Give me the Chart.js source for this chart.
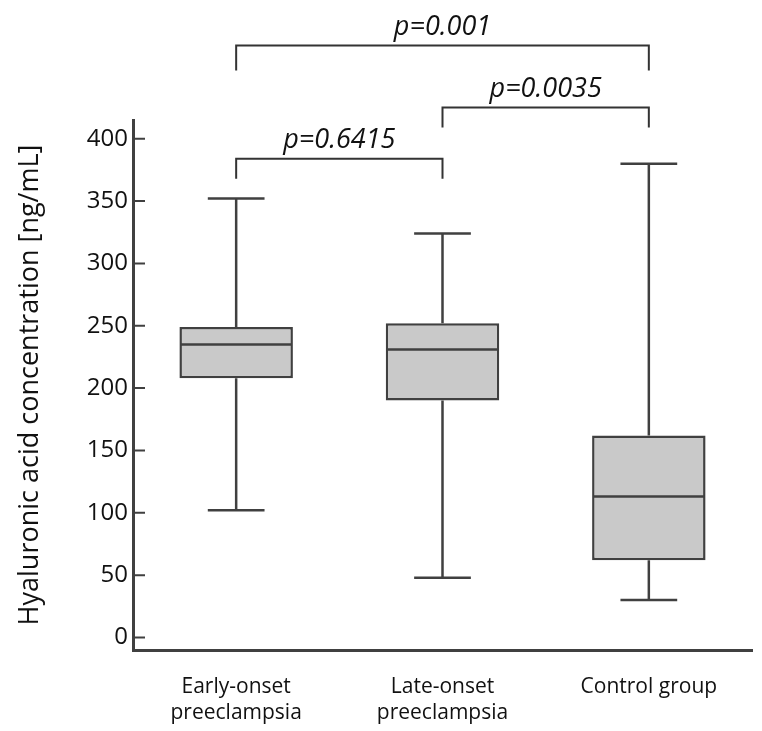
<!DOCTYPE html>
<html>
<head>
<meta charset="utf-8">
<script src="https://cdn.jsdelivr.net/npm/chart.js@4.4.1/dist/chart.umd.min.js"></script>
<style>
  html, body { margin: 0; padding: 0; background: #fff; }
  #contenedor { width: 762px; height: 731px; }
</style>
</head>
<body>
<div id="contenedor"><canvas id="boxChart"></canvas></div>
<script>
var grupos   = [['Early-onset', 'preeclampsia'], ['Late-onset', 'preeclampsia'], 'Control group'];
var minimos  = [102, 48, 30];
var q1       = [208, 190, 62];
var medianas = [235, 231, 113];
var q3       = [249, 252, 162];
var maximos  = [352, 324, 380];
var yTicks   = [0, 50, 100, 150, 200, 250, 300, 350, 400];

// comparaciones entre grupos (indices) y su valor p
var comparaciones = [[0, 1], [1, 2], [0, 2]];
var pValores      = ['p=0.6415', 'p=0.0035', 'p=0.001'];

var colorLinea = '#404040';
var colorTexto = '#111111';

Chart.defaults.font.family = "'Open Sans', sans-serif";

var cajas = [];
for (var i = 0; i < grupos.length; i++) {
    cajas.push([q1[i], q3[i]]);
}

// mediana, bigotes y extremos de cada caja
var bigotesPlugin = {
    id: 'bigotes',
    afterDatasetsDraw: function(chart) {
        var ctx = chart.ctx;
        var y = chart.scales.y;
        var barras = chart.getDatasetMeta(0).data;
        ctx.save();
        ctx.strokeStyle = colorLinea;
        ctx.lineWidth = 2.5;
        for (var i = 0; i < barras.length; i++) {
            var b = barras[i];
            var x = b.x, w = b.width;
            var yMed = y.getPixelForValue(medianas[i]);
            var yMax = y.getPixelForValue(maximos[i]);
            var yMin = y.getPixelForValue(minimos[i]);
            ctx.beginPath();
            ctx.moveTo(x - w / 2 + 1, yMed);
            ctx.lineTo(x + w / 2 - 1, yMed);
            ctx.moveTo(x, y.getPixelForValue(q3[i]));
            ctx.lineTo(x, yMax);
            ctx.moveTo(x - w / 4, yMax);
            ctx.lineTo(x + w / 4, yMax);
            ctx.moveTo(x, y.getPixelForValue(q1[i]));
            ctx.lineTo(x, yMin);
            ctx.moveTo(x - w / 4, yMin);
            ctx.lineTo(x + w / 4, yMin);
            ctx.stroke();
        }
        ctx.restore();
    }
};

// marcas del eje y hacia dentro y corchetes con valores p
var anotacionesPlugin = {
    id: 'anotaciones',
    afterDraw: function(chart) {
        var ctx = chart.ctx;
        var x = chart.scales.x;
        var y = chart.scales.y;
        var area = chart.chartArea;
        ctx.save();
        ctx.strokeStyle = colorLinea;
        ctx.lineWidth = 2;
        ctx.beginPath();
        for (var t = 0; t < yTicks.length; t++) {
            var ty = y.getPixelForValue(yTicks[t]);
            ctx.moveTo(area.left, ty);
            ctx.lineTo(area.left + 12, ty);
        }
        ctx.stroke();

        var niveles = [384, 425, 474.7];
        var patas = [20, 20, 25];
        ctx.lineWidth = 2;
        ctx.strokeStyle = '#333333';
        ctx.fillStyle = colorTexto;
        ctx.font = "italic 27px 'Open Sans', sans-serif";
        ctx.textAlign = 'center';
        ctx.textBaseline = 'alphabetic';
        for (var c = 0; c < comparaciones.length; c++) {
            var x1 = x.getPixelForValue(comparaciones[c][0]);
            var x2 = x.getPixelForValue(comparaciones[c][1]);
            var yl = y.getPixelForValue(niveles[c]);
            ctx.beginPath();
            ctx.moveTo(x1, yl + patas[c]);
            ctx.lineTo(x1, yl);
            ctx.lineTo(x2, yl);
            ctx.lineTo(x2, yl + patas[c]);
            ctx.stroke();
            ctx.fillText(pValores[c], (x1 + x2) / 2, yl - 11);
        }
        ctx.restore();
    }
};

new Chart(document.getElementById('boxChart').getContext('2d'), {
    type: 'bar',
    data: {
        labels: grupos,
        datasets: [{
            data: cajas,
            backgroundColor: '#c9c9c9',
            borderColor: colorLinea,
            borderWidth: 2.5,
            borderSkipped: false,
            barPercentage: 0.55,
            categoryPercentage: 1
        }]
    },
    options: {
        responsive: true,
        maintainAspectRatio: false,
        animation: false,
        layout: { padding: { top: 120, right: 10, left: 0, bottom: 0 } },
        plugins: {
            legend: { display: false },
            tooltip: { enabled: false }
        },
        scales: {
            x: {
                grid: { display: false, drawTicks: false },
                border: { display: true, color: colorLinea, width: 3 },
                ticks: {
                    color: colorTexto,
                    padding: 24,
                    maxRotation: 0,
                    font: { size: 21, lineHeight: 1.25 }
                },
                afterFit: function(scale) { scale.height = 81; }
            },
            y: {
                min: -10,
                max: 415,
                afterBuildTicks: function(scale) {
                    scale.ticks = yTicks.map(function(v) { return { value: v }; });
                },
                grid: { display: false, drawTicks: false },
                border: { display: true, color: colorLinea, width: 3 },
                ticks: {
                    color: colorTexto,
                    padding: 5,
                    font: { size: 24 }
                },
                title: {
                    display: true,
                    text: 'Hyaluronic acid concentration [ng/mL]',
                    color: colorTexto,
                    font: { size: 27 },
                    padding: { top: 14, bottom: 0 }
                },
                afterFit: function(scale) { scale.width = 133; }
            }
        }
    },
    plugins: [bigotesPlugin, anotacionesPlugin]
});
</script>
</body>
</html>
